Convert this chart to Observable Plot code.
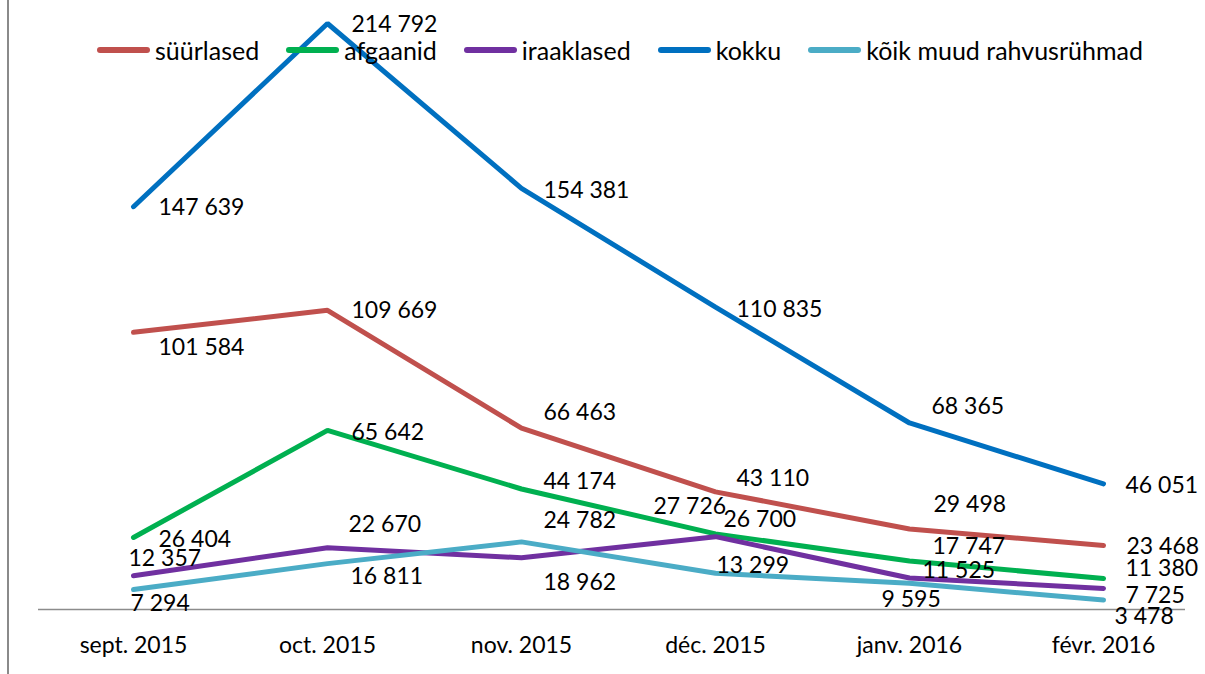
<!DOCTYPE html>
<html><head><meta charset="utf-8">
<script src="https://cdn.jsdelivr.net/npm/d3@7"></script>
<script src="https://cdn.jsdelivr.net/npm/@observablehq/plot@0.6"></script>
<style>
html,body{margin:0;padding:0;background:#fff;}
#wrap{position:relative;width:1205px;height:674px;overflow:hidden;font-family:Lato, sans-serif;}
#frame{position:absolute;left:7px;top:0;width:2px;height:674px;background:#8a8a8a;}
#chart{position:absolute;left:0;top:0;}
#legend{position:absolute;left:97px;top:35px;display:flex;align-items:center;font-size:25px;line-height:30px;color:#000;white-space:nowrap;}
.item{display:flex;align-items:center;margin-right:27px;}
.sw{width:53px;height:6px;border-radius:3px;margin-right:5px;}
</style></head><body>
<div id="wrap"><div id="frame"></div><div id="chart"></div><div id="legend"></div></div>
<script>
const months = ["sept. 2015","oct. 2015","nov. 2015","déc. 2015","janv. 2016","févr. 2016"];
const seriesNames = ["süürlased","afgaanid","iraaklased","kokku","kõik muud rahvusrühmad"];
const syyrlased = [101584,109669,66463,43110,29498,23468];
const afgaanid = [26404,65642,44174,27726,17747,11380];
const iraaklased = [12357,22670,18962,26700,11525,7725];
const kokku = [147639,214792,154381,110835,68365,46051];
const muud = [7294,16811,24782,13299,9595,3478];
const colors = ["#C0504D","#00B050","#7030A0","#0070C0","#4BACC6"];

// data label offsets [dx, dy] in px (style only)
const syyrOff = [[25,15],[24,0],[22,-16],[21,-13],[24,-24],[23,1]];
const afgOff  = [[25,2],[24,2],[22,-7],[-62,-27],[23,-14],[22,-10]];
const iraOff  = [[-5,-17],[21,-23],[22,25],[8,-17],[13,-7],[22,7]];
const kokOff  = [[25,1],[24,1],[22,2],[21,3],[22,-16],[22,2]];
const muudOff = [[-3,14],[23,13],[22,-21],[1,-8],[-28,16],[11,17]];

const values = [syyrlased, afgaanid, iraaklased, kokku, muud];
const offsets = [syyrOff, afgOff, iraOff, kokOff, muudOff];

const fmt = d3.formatLocale({decimal:",", thousands:"\u00a0", grouping:[3], currency:["",""]}).format(",d");

const data = [];
seriesNames.forEach((s, i) => months.forEach((m, j) => {
  data.push({series: s, month: m, value: values[i][j], dx: offsets[i][j][0], dy: offsets[i][j][1]});
}));

const labelMarks = data.map(d => Plot.text([d], {
  x: "month", y: "value", text: r => fmt(r.value),
  dx: d.dx, dy: d.dy, textAnchor: "start", fill: "#000", fontSize: 23
}));

const chart = Plot.plot({
  width: 1205, height: 674,
  marginLeft: 38, marginRight: 20, marginTop: 23, marginBottom: 65,
  style: {fontFamily: "Lato, sans-serif", fontSize: "23px", background: "transparent", color: "#000"},
  x: {type: "point", domain: months, range: [133, 1103], padding: 0},
  y: {domain: [0, d3.max(kokku)], axis: null},
  color: {domain: seriesNames, range: colors},
  marks: [
    Plot.ruleY([0], {stroke: "#8c8c8c", strokeWidth: 1.5}),
    Plot.axisX({tickSize: 0, tickPadding: 27, fontSize: 23, label: null}),
    Plot.line(data, {x: "month", y: "value", z: "series", stroke: "series", strokeWidth: 5, strokeLinejoin: "miter", strokeLinecap: "round"}),
    ...labelMarks
  ]
});
document.getElementById("chart").appendChild(chart);

const legend = document.getElementById("legend");
seriesNames.forEach((s, i) => {
  const item = document.createElement("div");
  item.className = "item";
  const sw = document.createElement("span");
  sw.className = "sw";
  sw.style.background = colors[i];
  const t = document.createElement("span");
  t.textContent = s;
  item.appendChild(sw); item.appendChild(t);
  legend.appendChild(item);
});
</script>
</body></html>
